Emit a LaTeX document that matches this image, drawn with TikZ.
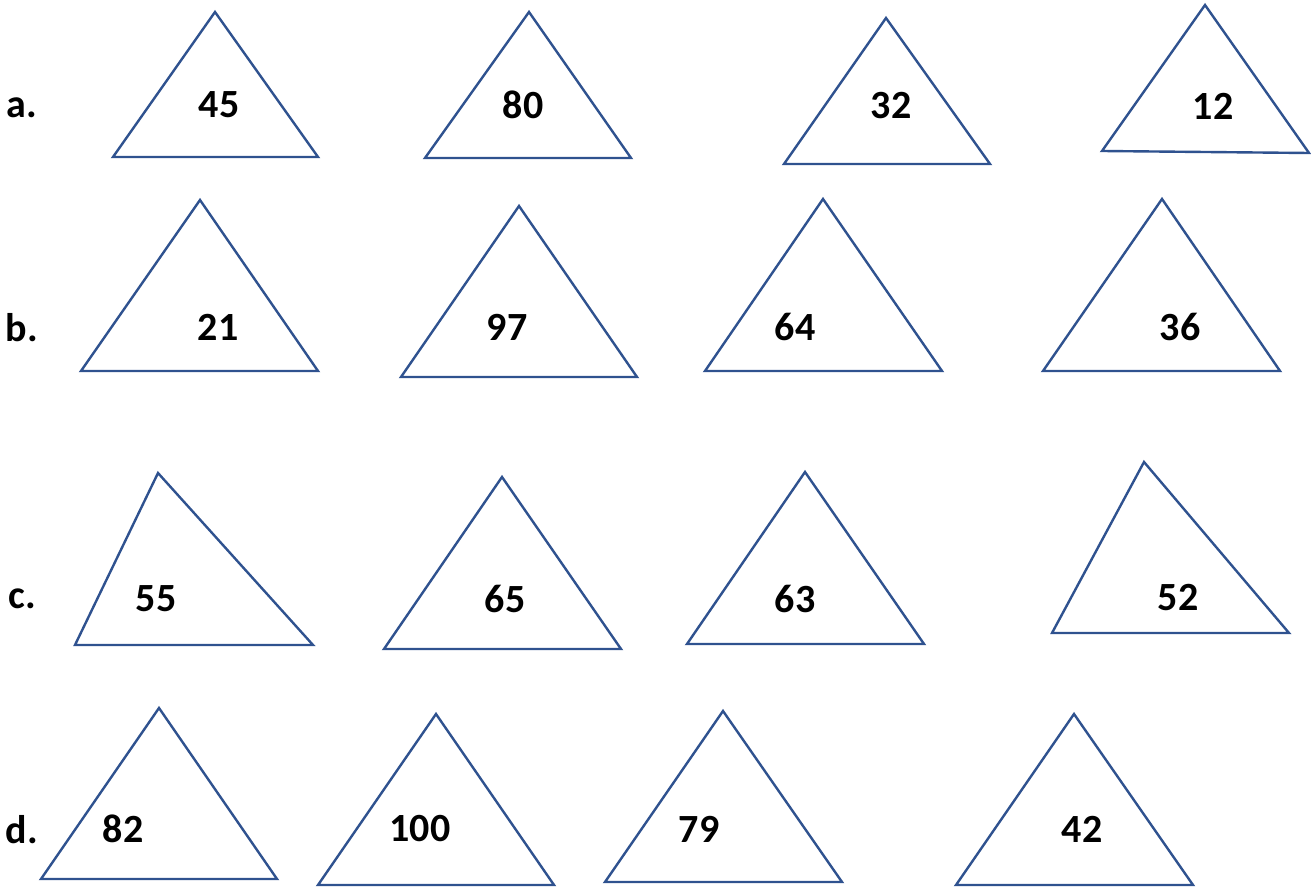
\documentclass[tikz,border=0pt]{standalone}
\usepackage{fontspec}
\setmainfont{Carlito}[BoldFont={Carlito Bold}]
\usepackage{tikz}
\definecolor{TriBlue}{RGB}{47,82,143}

\begin{document}
\begin{tikzpicture}[x=.5pt,y=-.5pt,tri/.style={draw=TriBlue,line width=1.2pt,line join=miter},
  num/.style={font=\fontsize{20}{22}\selectfont\bfseries,inner sep=0pt}]
  \useasboundingbox (0,0) rectangle (1311,887);
  % row labels
  \node[num] (la) at (22,108) {a.};
  \node[num] (lb) at (22,328) {b.};
  \node[num] (lc) at (22,599) {c.};
  \node[num] (ld) at (22,830) {d.};
  % row a
  \draw[tri] (215,12)--(318,157)--(113,157)--cycle;
  \draw[tri] (529,12)--(631,158)--(425,158)--cycle;
  \draw[tri] (886,18)--(990,164)--(784,164)--cycle;
  \draw[tri] (1205,5)--(1309,153)--(1102,151)--cycle;
  \node[num] (a1) at (219,105) {45};
  \node[num] (a2) at (523,105) {80};
  \node[num] (a3) at (891,106) {32};
  \node[num] (a4) at (1213,106) {12};
  % row b
  \draw[tri] (200,200)--(318,371)--(81,371)--cycle;
  \draw[tri] (519,206)--(637,377)--(401,377)--cycle;
  \draw[tri] (823,199)--(942,371)--(705,371)--cycle;
  \draw[tri] (1162,199)--(1280,371)--(1043,371)--cycle;
  \node[num] (b1) at (218,327) {21};
  \node[num] (b2) at (507,327) {97};
  \node[num] (b3) at (795,327) {64};
  \node[num] (b4) at (1180,327) {36};
  % row c
  \draw[tri] (158,473)--(313,645)--(75,645)--cycle;
  \draw[tri] (502,477)--(621,649)--(384,649)--cycle;
  \draw[tri] (805,472)--(924,644)--(687,644)--cycle;
  \draw[tri] (1144,462)--(1289,633)--(1052,633)--cycle;
  \node[num] (c1) at (156,599) {55};
  \node[num] (c2) at (505,599) {65};
  \node[num] (c3) at (795,599) {63};
  \node[num] (c4) at (1178,598) {52};
  % row d
  \draw[tri] (159,708)--(277,879)--(41,879)--cycle;
  \draw[tri] (436,714)--(554,885)--(318,885)--cycle;
  \draw[tri] (723,711)--(842,882)--(605,882)--cycle;
  \draw[tri] (1074,714)--(1193,885)--(956,885)--cycle;
  \node[num] (d1) at (123,829) {82};
  \node[num] (d2) at (420,829) {100};
  \node[num] (d3) at (699,829) {79};
  \node[num] (d4) at (1082,829) {42};
\end{tikzpicture}
\end{document}
